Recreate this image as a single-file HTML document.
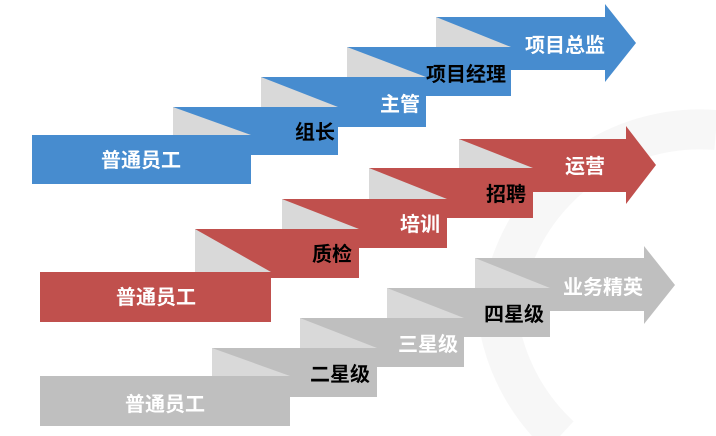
<!DOCTYPE html>
<html><head><meta charset="utf-8"><style>
html,body{margin:0;padding:0;background:#fff;width:716px;height:436px;overflow:hidden;}
svg{display:block;}
text{font-family:"Liberation Sans","Noto Sans CJK SC",sans-serif;font-weight:bold;font-size:20px;}
</style></head><body>
<svg width="716" height="436" viewBox="0 0 716 436" xmlns="http://www.w3.org/2000/svg">
<path d="M716,130 A200,200 0 0 0 500,330 A200,200 0 0 0 560,436" fill="none" stroke="#f7f7f7" stroke-width="40"/>
<!-- BLUE -->
<g>
<polygon points="436,17 605,17 605,4 636,43 605,82 605,70 436,70" fill="#478CCF"/>
<polygon points="436,17 511,47 436,47" fill="#D9D9D9"/>
<rect x="347" y="47" width="164" height="49" fill="#478CCF"/>
<polygon points="347,47 426,77 347,77" fill="#D9D9D9"/>
<rect x="261" y="77" width="165" height="50" fill="#478CCF"/>
<polygon points="261,77 338,107 261,107" fill="#D9D9D9"/>
<rect x="173" y="107" width="165" height="48" fill="#478CCF"/>
<polygon points="173,107 251,135 173,135" fill="#D9D9D9"/>
<rect x="32" y="135" width="219" height="49" fill="#478CCF"/>
<text x="141" y="167" fill="#fff" text-anchor="middle">普通员工</text>
<text x="335" y="139" fill="#000" text-anchor="end">组长</text>
<text x="420" y="111" fill="#fff" text-anchor="end">主管</text>
<text x="506" y="81" fill="#000" text-anchor="end">项目经理</text>
<text x="605" y="52" fill="#fff" text-anchor="end">项目总监</text>
</g>
<!-- RED -->
<g>
<polygon points="459,139 626,139 626,126 656,165 626,204 626,192 459,192" fill="#C0504D"/>
<polygon points="459,139 533,168 459,168" fill="#D9D9D9"/>
<rect x="369" y="168" width="164" height="50" fill="#C0504D"/>
<polygon points="369,168 447,199 369,199" fill="#D9D9D9"/>
<rect x="282" y="199" width="165" height="49" fill="#C0504D"/>
<polygon points="282,199 359,229 282,229" fill="#D9D9D9"/>
<rect x="195" y="229" width="164" height="49" fill="#C0504D"/>
<polygon points="195,229 271,272 195,272" fill="#D9D9D9"/>
<rect x="40" y="272" width="231" height="50" fill="#C0504D"/>
<text x="156" y="304" fill="#fff" text-anchor="middle">普通员工</text>
<text x="352" y="261" fill="#000" text-anchor="end">质检</text>
<text x="440" y="231" fill="#fff" text-anchor="end">培训</text>
<text x="526" y="201" fill="#000" text-anchor="end">招聘</text>
<text x="605" y="173" fill="#fff" text-anchor="end">运营</text>
</g>
<!-- GRAY -->
<g>
<polygon points="475,258 644,258 644,246 675,285 644,324 644,311 475,311" fill="#BFBFBF"/>
<polygon points="475,258 550,288 475,288" fill="#D9D9D9"/>
<rect x="387" y="288" width="163" height="49" fill="#BFBFBF"/>
<polygon points="387,288 464,318 387,318" fill="#D9D9D9"/>
<rect x="300" y="318" width="164" height="49" fill="#BFBFBF"/>
<polygon points="300,318 377,348 300,348" fill="#D9D9D9"/>
<rect x="212" y="348" width="165" height="49" fill="#BFBFBF"/>
<polygon points="212,348 290,376 212,376" fill="#D9D9D9"/>
<rect x="40" y="376" width="250" height="50" fill="#BFBFBF"/>
<text x="165" y="411" fill="#fff" text-anchor="middle">普通员工</text>
<text x="370" y="381" fill="#000" text-anchor="end">二星级</text>
<text x="458" y="351" fill="#fff" text-anchor="end">三星级</text>
<text x="544" y="321" fill="#000" text-anchor="end">四星级</text>
<text x="643" y="294" fill="#fff" text-anchor="end">业务精英</text>
</g>
</svg>
</body></html>
